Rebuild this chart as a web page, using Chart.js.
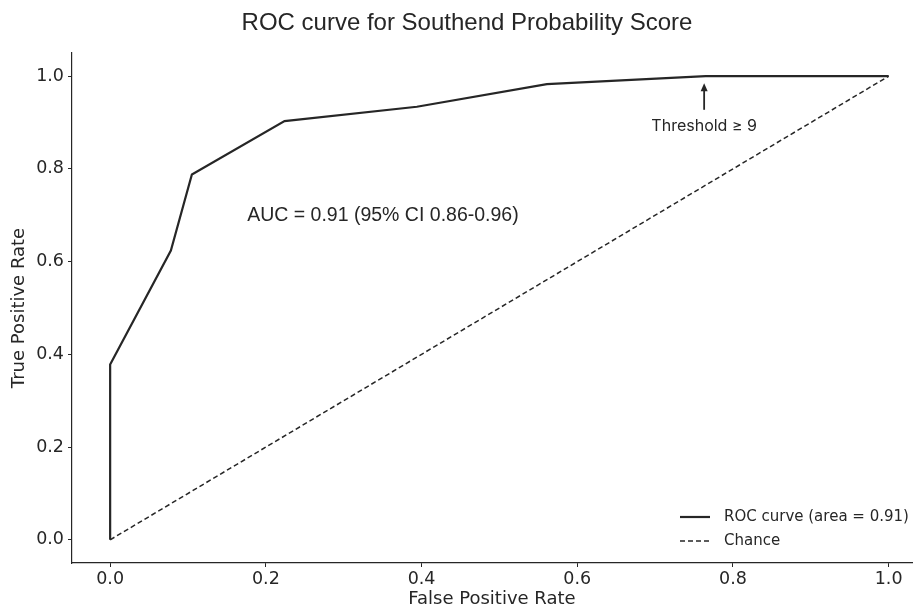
<!DOCTYPE html>
<html>
<head>
<meta charset="utf-8">
<script src="https://cdn.jsdelivr.net/npm/chart.js@4"></script>
<style>
  html, body { margin: 0; padding: 0; background: #ffffff; }
  #wrap { width: 915px; height: 610px; }
</style>
</head>
<body>
<div id="wrap"><canvas id="roc-chart" width="915" height="610"></canvas></div>
<script>
// ROC curve points
const rocFpr = [0, 0, 0.078, 0.105, 0.224, 0.394, 0.561, 0.765, 1.0];
const rocTpr = [0, 0.378, 0.624, 0.788, 0.903, 0.934, 0.983, 1.0, 1.0];
const chanceFpr = [0, 1];
const chanceTpr = [0, 1];

const xTicks = [0, 0.2, 0.4, 0.6, 0.8, 1.0];
const yTicks = [0, 0.2, 0.4, 0.6, 0.8, 1.0];

const titleText = 'ROC curve for Southend Probability Score';
const aucText = 'AUC = 0.91 (95% CI 0.86-0.96)';
const aucPos = [0.176, 0.70];
const thresholdText = 'Threshold \u2265 9';
const thresholdTip = [0.763, 0.985];   // arrow head
const thresholdLabel = [0.763, 0.893]; // label centre

const ink = '#262626';

function toPoints(xs, ys) {
    return xs.map((x, i) => ({ x: x, y: ys[i] }));
}

// title, annotations and legend drawn on top of the plot
const overlay = {
    id: 'overlay',
    afterDraw(chart) {
        const ctx = chart.ctx;
        const xs = chart.scales.x;
        const ys = chart.scales.y;
        const area = chart.chartArea;
        ctx.save();
        ctx.fillStyle = ink;
        ctx.strokeStyle = ink;

        // title
        ctx.font = '24px "Liberation Sans", Arial, sans-serif';
        ctx.textAlign = 'center';
        ctx.textBaseline = 'middle';
        ctx.fillText(titleText, 467, 23);

        // AUC text
        ctx.font = '19.5px "Liberation Sans", Arial, sans-serif';
        ctx.textAlign = 'left';
        ctx.fillText(aucText, xs.getPixelForValue(aucPos[0]), ys.getPixelForValue(aucPos[1]));

        // threshold arrow
        const ax = xs.getPixelForValue(thresholdTip[0]);
        const tipY = ys.getPixelForValue(thresholdTip[1]);
        const labY = ys.getPixelForValue(thresholdLabel[1]);
        ctx.lineWidth = 1.8;
        ctx.beginPath();
        ctx.moveTo(ax, labY - 16);
        ctx.lineTo(ax, tipY + 6);
        ctx.stroke();
        ctx.beginPath();
        ctx.moveTo(ax, tipY);
        ctx.lineTo(ax - 3.5, tipY + 8);
        ctx.lineTo(ax + 3.5, tipY + 8);
        ctx.closePath();
        ctx.fill();
        ctx.font = '16px Inter, "Noto Sans", sans-serif';
        ctx.textAlign = 'center';
        ctx.fillText(thresholdText, xs.getPixelForValue(thresholdLabel[0]), labY);

        // legend
        const sets = chart.data.datasets;
        ctx.font = '15px "DejaVu Sans", sans-serif';
        ctx.textAlign = 'left';
        sets.forEach((ds, i) => {
            const ly = area.bottom - 46 + i * 24;
            const lx = area.right - 232;
            ctx.lineWidth = ds.borderWidth;
            ctx.setLineDash(ds.borderDash || []);
            ctx.beginPath();
            ctx.moveTo(lx, ly);
            ctx.lineTo(lx + 30, ly);
            ctx.stroke();
            ctx.setLineDash([]);
            ctx.fillText(ds.label, lx + 44, ly);
        });
        ctx.restore();
    }
};

const tickFont = { family: '"DejaVu Sans", sans-serif', size: 17.5 };
const titleFont = { family: '"DejaVu Sans", sans-serif', size: 18 };

new Chart(document.getElementById('roc-chart'), {
    type: 'scatter',
    data: {
        datasets: [{
            label: 'ROC curve (area = 0.91)',
            data: toPoints(rocFpr, rocTpr),
            showLine: true,
            borderColor: ink,
            borderWidth: 2.2,
            pointRadius: 0,
            tension: 0
        }, {
            label: 'Chance',
            data: toPoints(chanceFpr, chanceTpr),
            showLine: true,
            borderColor: ink,
            borderWidth: 1.5,
            borderDash: [5, 3],
            pointRadius: 0
        }]
    },
    options: {
        responsive: false,
        animation: false,
        layout: { padding: { top: 53, right: 3, left: 0, bottom: 0 } },
        plugins: {
            legend: { display: false },
            title: { display: false },
            tooltip: { enabled: false }
        },
        scales: {
            x: {
                type: 'linear',
                min: -0.049,
                max: 1.03,
                afterBuildTicks: s => { s.ticks = xTicks.map(v => ({ value: v })); },
                afterFit: s => { s.height = 47; },
                grid: { drawOnChartArea: false, drawTicks: true, tickLength: 4, tickColor: ink },
                border: { display: true, color: ink, width: 1.2 },
                ticks: { color: ink, font: tickFont, padding: 2, callback: v => v.toFixed(1) },
                title: { display: true, text: 'False Positive Rate', color: ink, font: titleFont, padding: { top: 0, bottom: 0 } }
            },
            y: {
                type: 'linear',
                min: -0.05,
                max: 1.05,
                afterBuildTicks: s => { s.ticks = yTicks.map(v => ({ value: v })); },
                afterFit: s => { s.width = 72; },
                grid: { drawOnChartArea: false, drawTicks: true, tickLength: 4, tickColor: ink },
                border: { display: true, color: ink, width: 1.2 },
                ticks: { color: ink, font: tickFont, padding: 4, callback: v => v.toFixed(1) },
                title: { display: true, text: 'True Positive Rate', color: ink, font: titleFont, padding: { top: 9, bottom: 0 } }
            }
        }
    },
    plugins: [overlay]
});
</script>
</body>
</html>
